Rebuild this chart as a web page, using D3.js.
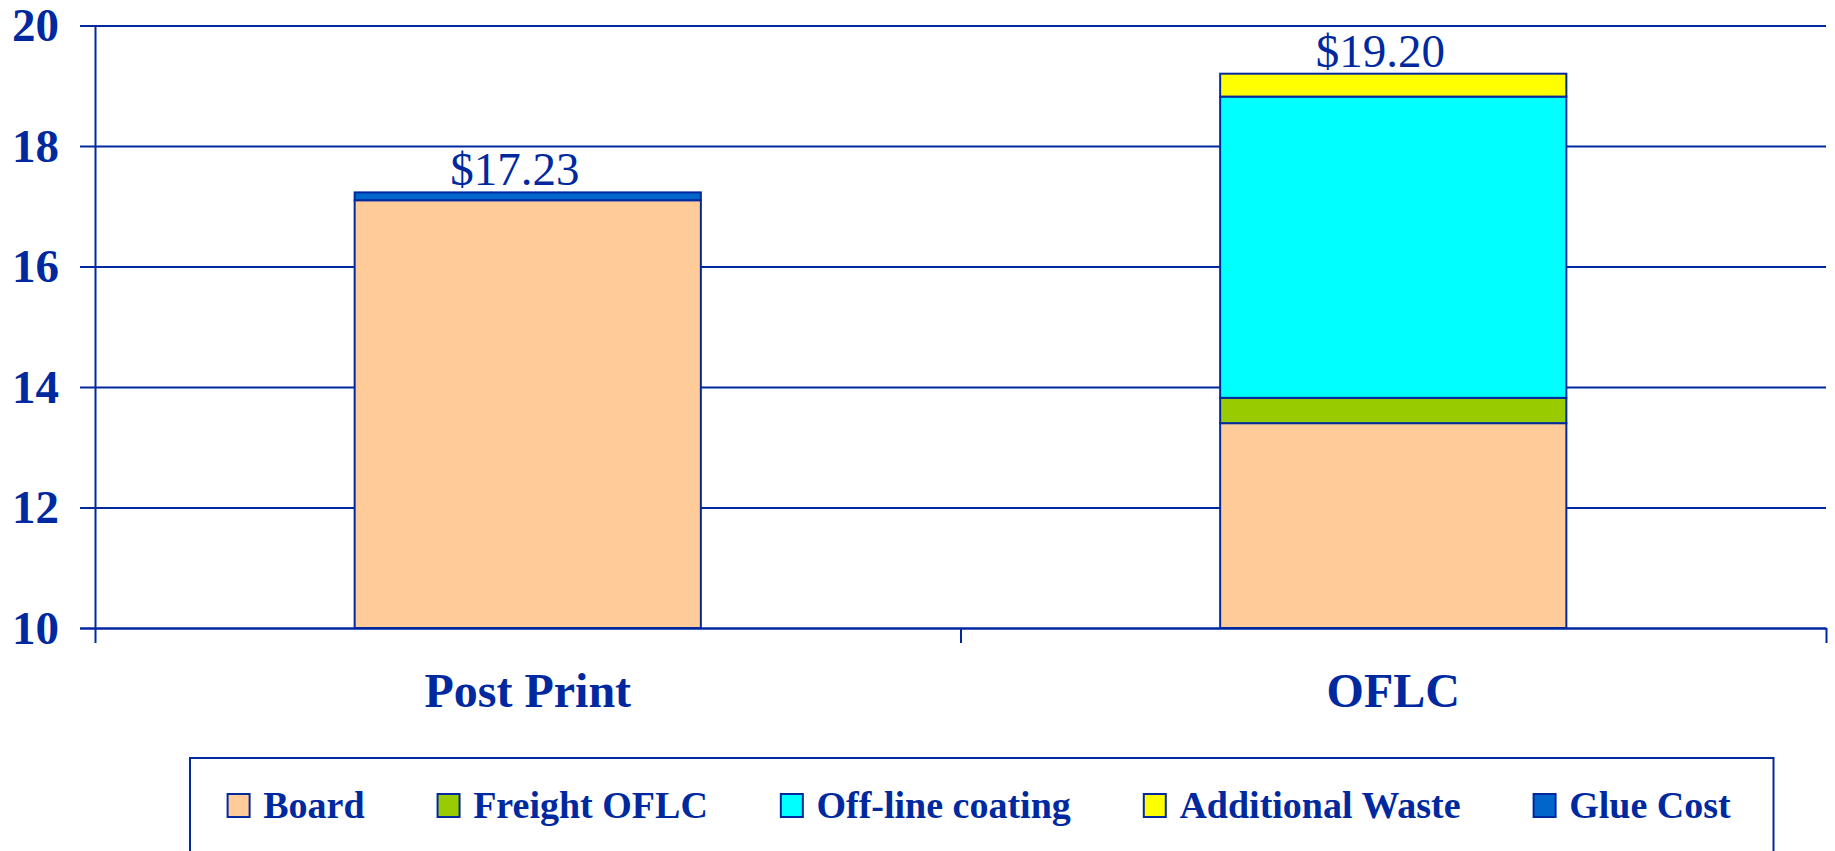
<!DOCTYPE html>
<html>
<head>
<meta charset="utf-8">
<script src="https://cdn.jsdelivr.net/npm/d3@7"></script>
<style>
  body { margin: 0; background: #fff; }
  text { font-family: "Liberation Serif", "Times New Roman", serif; }
</style>
</head>
<body>
<div id="chart"></div>
<script>
// data
var categories = ["Post Print", "OFLC"];
var seriesNames = ["Board", "Freight OFLC", "Off-line coating", "Additional Waste", "Glue Cost"];
var board    = [17.10, 13.40];
var freight  = [0.00, 0.42];
var coating  = [0.00, 5.00];
var waste    = [0.00, 0.38];
var glue     = [0.13, 0.00];
var seriesColors = ["#ffcc99", "#99cc00", "#00ffff", "#ffff00", "#0066cc"];
var yTicks = [10, 12, 14, 16, 18, 20];

var ink = "#0029a0";
var W = 1835, H = 851;
var margin = {top: 25.5, right: 9, bottom: 223, left: 95};
var width = W - margin.left - margin.right;
var height = H - margin.top - margin.bottom;

var table = categories.map(function(c, i) {
  return {cat: c, "Board": board[i], "Freight OFLC": freight[i],
          "Off-line coating": coating[i], "Additional Waste": waste[i],
          "Glue Cost": glue[i]};
});
var stacked = d3.stack().keys(seriesNames)(table);

var svg = d3.select("#chart").append("svg")
    .attr("width", W).attr("height", H);
var g = svg.append("g")
    .attr("transform", "translate(" + margin.left + "," + margin.top + ")");

var x = d3.scaleBand().domain(categories).range([0, width])
    .paddingInner(0.6).paddingOuter(0.3);
var y = d3.scaleLinear().domain([10, 20]).range([height, 0]).clamp(true);

// y axis + gridlines
var yAxis = g.append("g")
    .call(d3.axisLeft(y).tickValues(yTicks).tickSize(15).tickPadding(21));
yAxis.select(".domain").attr("stroke", ink).attr("stroke-width", 2);
yAxis.selectAll(".tick line").attr("x1", -15).attr("x2", width)
    .attr("stroke", ink).attr("stroke-width", 2);
yAxis.selectAll(".tick text")
    .attr("fill", ink).attr("font-size", 47).attr("font-weight", "bold")
    .style("font-family", "Liberation Serif");

// bars
g.selectAll(".layer").data(stacked).enter().append("g")
    .attr("fill", function(d, i) { return seriesColors[i]; })
  .selectAll("rect")
  .data(function(d) { return d.filter(function(p) { return p[1] - p[0] > 0; }); })
  .enter().append("rect")
    .attr("x", function(d) { return x(d.data.cat); })
    .attr("width", x.bandwidth())
    .attr("y", function(d) { return y(d[1]); })
    .attr("height", function(d) { return y(d[0]) - y(d[1]); })
    .attr("stroke", ink).attr("stroke-width", 2);

// x axis with boundary ticks
var xb = d3.scaleLinear().domain([0, categories.length]).range([0, width]);
var xAxis = g.append("g").attr("transform", "translate(0," + height + ")")
    .call(d3.axisBottom(xb)
      .tickValues(d3.range(categories.length + 1)).tickFormat("").tickSize(15).tickSizeOuter(0));
xAxis.select(".domain").attr("stroke", ink).attr("stroke-width", 2);
xAxis.selectAll(".tick line").attr("stroke", ink).attr("stroke-width", 2);

g.selectAll(".catlabel").data(categories).enter().append("text")
    .attr("x", function(d) { return x(d) + x.bandwidth() / 2; })
    .attr("y", height + 79)
    .attr("text-anchor", "middle")
    .attr("font-size", 48).attr("font-weight", "bold").attr("fill", ink)
    .text(function(d) { return d; });

// totals above the bars
var totals = table.map(function(d) {
  return d3.sum(seriesNames, function(k) { return d[k]; });
});
g.selectAll(".total").data(totals).enter().append("text")
    .attr("x", function(d, i) { return x(categories[i]) + x.bandwidth() / 2 - 13; })
    .attr("y", function(d) { return y(d) - 7; })
    .attr("text-anchor", "middle")
    .attr("font-size", 47).attr("fill", ink)
    .text(function(d) { return "$" + d3.format(".2f")(d); });

// legend
var legend = svg.append("g");
legend.append("rect")
    .attr("x", 190).attr("y", 758).attr("width", 1583.5).attr("height", 120)
    .attr("fill", "none").attr("stroke", ink).attr("stroke-width", 2);
var lx = 227.6;
seriesNames.forEach(function(name, i) {
  legend.append("rect")
      .attr("x", lx).attr("y", 794).attr("width", 22).attr("height", 23)
      .attr("fill", seriesColors[i]).attr("stroke", ink).attr("stroke-width", 2);
  var t = legend.append("text")
      .attr("x", lx + 35.6).attr("y", 818)
      .attr("font-size", 38).attr("font-weight", "bold").attr("fill", ink)
      .text(name);
  lx += 35.6 + t.node().getComputedTextLength() + 73;
});
</script>
</body>
</html>
